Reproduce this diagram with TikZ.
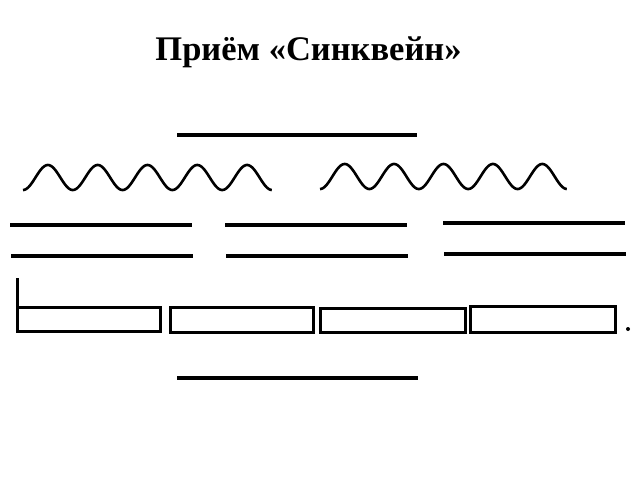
\documentclass[tikz,border=0pt]{standalone}
\usepackage{fontspec}
\setmainfont{Liberation Serif}
\begin{document}
\begin{tikzpicture}[x=1pt,y=-1pt,
  thick line/.style={line width=4pt},
  wave/.style={line width=2.6pt,line join=round},
  boxshape/.style={draw,line width=3pt}]
\useasboundingbox (0,0) rectangle (640,480);
\node[font=\bfseries\fontsize{34.5}{38}\selectfont,anchor=base,inner sep=0pt] (title) at (308.5,60) {Приём «Синквейн»};
% top and bottom lines
\draw[thick line] (177,135) -- (417,135);
\draw[thick line] (177,378) -- (418,378);
% waves
\draw[wave] plot[domain=0:5,samples=300,smooth] ({23+49.8*\x},{177.5+12.5*cos(360*\x)});
\draw[wave] plot[domain=0:5,samples=300,smooth] ({320+49.4*\x},{176.5+12.5*cos(360*\x)});
% double lines
\draw[thick line] (10,225) -- (192,225);
\draw[thick line] (11,256) -- (193,256);
\draw[thick line] (225,225) -- (407,225);
\draw[thick line] (226,256) -- (408,256);
\draw[thick line] (443,223) -- (625,223);
\draw[thick line] (444,254) -- (626,254);
% boxes
\draw[boxshape] (17,307) rectangle (160,331);
\draw[line width=3pt] (17,307) -- (17,278);
\draw[boxshape] (170,307) rectangle (313,332);
\draw[boxshape] (320,308) rectangle (465,332);
\draw[boxshape] (470,306) rectangle (615,332);
\fill (628,329) circle (2pt);
\end{tikzpicture}
\end{document}
